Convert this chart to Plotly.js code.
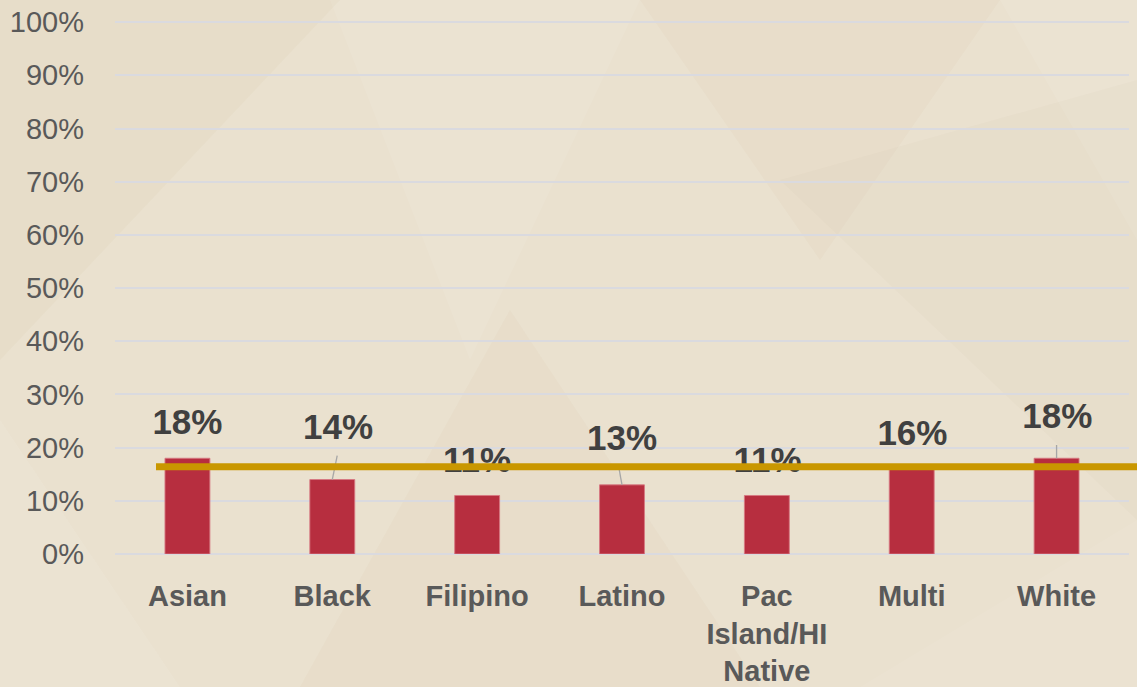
<!DOCTYPE html>
<html>
<head>
<meta charset="utf-8">
<script src="https://cdn.plot.ly/plotly-3.0.1.min.js"></script>
<style>
html,body{margin:0;padding:0;background:#EAE1CF;}
#chart{width:1137px;height:687px;}
</style>
</head>
<body>
<div id="chart"></div>
<script>
// ---- data ----
const categories = ["Asian", "Black", "Filipino", "Latino", "Pac<br>Island/HI<br>Native", "Multi", "White"];
const values = [18, 14, 11, 13, 11, 16, 18];
const valueLabels = ["18%", "14%", "11%", "13%", "11%", "16%", "18%"];
const benchmark = 16.4;
const yTickValues = [0, 10, 20, 30, 40, 50, 60, 70, 80, 90, 100];
const yTickLabels = ["0%", "10%", "20%", "30%", "40%", "50%", "60%", "70%", "80%", "90%", "100%"];

// ---- style / placement (not data) ----
const W = 1137, H = 687;
const M = {l: 115, r: 8, t: 20, b: 133};
const labelOffsetY = [6.25, 9.3, 6.0, 8.2, 6.0, 6.2, 7.4];
const labelOffsetX = [0, 0.04, 0, 0, 0.005, 0.005, 0.005];
const leaders = [ // index, start dx, start dy above value
  {i: 1, dx: 0.034, top: 4.5},
  {i: 3, dx: -0.019, top: 2.8},
  {i: 6, dx: 0, top: 2.5}
];

const idx = categories.map((c, i) => i);

function px2paper(x, y) {
  return [(x - M.l) / (W - M.l - M.r), (H - M.b - y) / (H - M.t - M.b)];
}
function tri(pts, color) {
  const p = pts.map(q => px2paper(q[0], q[1]));
  return {
    type: 'path', xref: 'paper', yref: 'paper', layer: 'below',
    path: 'M' + p.map(q => q[0].toFixed(4) + ',' + q[1].toFixed(4)).join(' L') + ' Z',
    fillcolor: color, line: {width: 0}
  };
}

const bgShapes = [
  tri([[0,0],[340,0],[0,360]], 'rgba(190,165,125,0.06)'),
  tri([[330,0],[640,0],[470,360]], 'rgba(255,255,255,0.07)'),
  tri([[640,0],[1000,0],[820,260]], 'rgba(190,165,125,0.05)'),
  tri([[1000,0],[1137,0],[1137,240]], 'rgba(255,255,255,0.08)'),
  tri([[510,310],[300,687],[760,687]], 'rgba(190,165,125,0.05)'),
  tri([[0,420],[180,687],[0,687]], 'rgba(255,255,255,0.07)'),
  tri([[780,180],[1137,80],[1137,520]], 'rgba(190,165,125,0.04)'),
  tri([[860,687],[1137,520],[1137,687]], 'rgba(255,255,255,0.06)')
];

const traces = [];
traces.push({
  type: 'bar', x: idx, y: values, width: 0.31,
  marker: {color: '#B72E3F', line: {color: 'rgba(215,120,130,0.9)', width: 1}},
  hoverinfo: 'skip'
});
leaders.forEach(L => {
  traces.push({
    type: 'scatter', mode: 'lines',
    x: [idx[L.i] + L.dx, idx[L.i]],
    y: [values[L.i] + L.top, values[L.i]],
    line: {color: '#A6A6A6', width: 1.3},
    hoverinfo: 'skip'
  });
});
traces.push({
  type: 'scatter', mode: 'text',
  x: idx.map((v, i) => v + labelOffsetX[i]),
  y: values.map((v, i) => v + labelOffsetY[i]),
  text: valueLabels, textposition: 'middle center',
  textfont: {family: 'Liberation Sans, Arial, sans-serif', size: 35, color: '#404040', weight: 'bold'},
  hoverinfo: 'skip', cliponaxis: false
});

const layout = {
  width: W, height: H,
  margin: M,
  paper_bgcolor: '#EAE1CF',
  plot_bgcolor: 'rgba(0,0,0,0)',
  showlegend: false,
  bargap: 0,
  xaxis: {
    range: [-0.5, 6.5], tickmode: 'array', tickvals: idx, ticktext: categories,
    showgrid: false, zeroline: false, showline: false, ticks: '',
    ticklabelstandoff: 22,
    tickfont: {family: 'Liberation Sans, Arial, sans-serif', size: 29, color: '#595959', weight: 'bold'},
    fixedrange: true
  },
  yaxis: {
    range: [0, 100.4], tickmode: 'array', tickvals: yTickValues, ticktext: yTickLabels,
    showgrid: true, gridcolor: '#DADADF', gridwidth: 2,
    zeroline: true, zerolinecolor: '#DADADF', zerolinewidth: 2,
    showline: false, ticks: '',
    ticklabelstandoff: 30,
    tickfont: {family: 'Liberation Sans, Arial, sans-serif', size: 29, color: '#595959'},
    fixedrange: true
  },
  shapes: bgShapes.concat([{
    type: 'line', xref: 'paper', yref: 'y', layer: 'above',
    x0: px2paper(156, 0)[0], x1: 1.03, y0: benchmark, y1: benchmark,
    line: {color: '#C99700', width: 7}
  }])
};

Plotly.newPlot('chart', traces, layout, {displayModeBar: false, staticPlot: true});
</script>
</body>
</html>
